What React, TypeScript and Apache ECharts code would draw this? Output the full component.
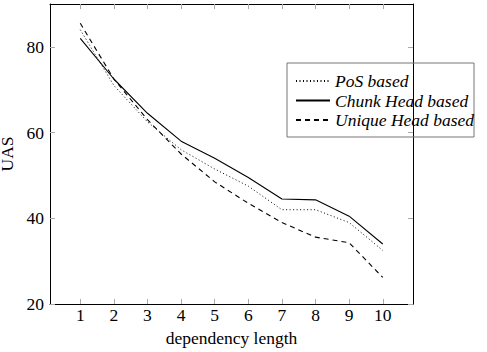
import React, { useEffect, useRef } from "react";
import * as echarts from "echarts";

const lengths = [1, 2, 3, 4, 5, 6, 7, 8, 9, 10];
const posBased = [84, 71, 62.5, 56, 51.5, 47.5, 42, 42, 39, 32.5];
const chunkHeadBased = [82, 72.5, 64.5, 58, 54, 49.5, 44.5, 44.3, 40.5, 34];
const uniqueHeadBased = [85.5, 72.5, 63, 55, 48.5, 43.5, 39, 35.6, 34.3, 26.2];
const yTicks = [20, 40, 60, 80];

const FONT = "Times New Roman, Liberation Serif, DejaVu Serif, serif";
const FS = 17.5;

export default function App() {
  const ref = useRef<HTMLDivElement>(null);
  useEffect(() => {
    if (!ref.current) return;
    const chart = echarts.init(ref.current, undefined, { renderer: "svg" });
    const pairs = (ys: number[]) => lengths.map((x, i) => [x, ys[i]]);
    const tickStyle = { show: true, inside: true, length: 5, lineStyle: { color: "#aaa", width: 1 } };
    const axisLine = { show: true, lineStyle: { color: "#000", width: 1 } };
    chart.setOption({
      animation: false,
      backgroundColor: "#fff",
      textStyle: { fontFamily: FONT },
      grid: { left: 50, top: 4, right: 74, bottom: 48, containLabel: false, outerBoundsMode: "none" },
      legend: {
        orient: "vertical",
        left: 287,
        top: 63,
        padding: [9, 0, 8, 8],
        itemGap: 1.5,
        itemWidth: 34,
        itemHeight: 14,
        borderColor: "#777",
        borderWidth: 1,
        itemStyle: { opacity: 0 },
        textStyle: { fontFamily: FONT, fontStyle: "italic", fontSize: 17.5, color: "#000" },
        data: ["PoS based", "Chunk Head based", "Unique Head based"],
      },
      xAxis: [
        {
          type: "value",
          min: 0.1,
          max: 10.9,
          name: "dependency length",
          nameLocation: "middle",
          nameGap: 25,
          nameTextStyle: { fontFamily: FONT, fontSize: FS, color: "#000" },
          axisLine,
          axisTick: { ...tickStyle, customValues: lengths },
          axisLabel: { customValues: lengths, fontFamily: FONT, fontSize: FS, color: "#000", margin: 2 },
          splitLine: { show: false },
        },
        {
          type: "value",
          position: "top",
          min: 0.1,
          max: 10.9,
          axisLine,
          axisTick: { ...tickStyle, customValues: lengths },
          axisLabel: { show: false },
          splitLine: { show: false },
        },
      ],
      yAxis: [
        {
          type: "value",
          min: 20,
          max: 90,
          name: "UAS",
          nameLocation: "middle",
          nameGap: 29,
          nameTextStyle: { fontFamily: FONT, fontSize: FS, color: "#000" },
          axisLine,
          axisTick: { ...tickStyle, customValues: yTicks },
          axisLabel: { customValues: yTicks, fontFamily: FONT, fontSize: FS, color: "#000", margin: 6 },
          splitLine: { show: false },
        },
        {
          type: "value",
          position: "right",
          min: 20,
          max: 90,
          axisLine,
          axisTick: { ...tickStyle, customValues: yTicks },
          axisLabel: { show: false },
          splitLine: { show: false },
        },
      ],
      series: [
        {
          name: "PoS based",
          type: "line",
          data: pairs(posBased),
          symbol: "none",
          color: "#000",
          lineStyle: { color: "#000", width: 1, type: [1, 2.5] },
        },
        {
          name: "Chunk Head based",
          type: "line",
          data: pairs(chunkHeadBased),
          symbol: "none",
          color: "#000",
          lineStyle: { color: "#000", width: 1.1, type: "solid" },
        },
        {
          name: "Unique Head based",
          type: "line",
          data: pairs(uniqueHeadBased),
          symbol: "none",
          color: "#000",
          lineStyle: { color: "#000", width: 1.1, type: [5, 4] },
        },
      ],
    });
    return () => chart.dispose();
  }, []);
  return (
    <div
      ref={ref}
      style={{ position: "absolute", left: 0, top: 0, width: 487, height: 352 }}
    />
  );
}
